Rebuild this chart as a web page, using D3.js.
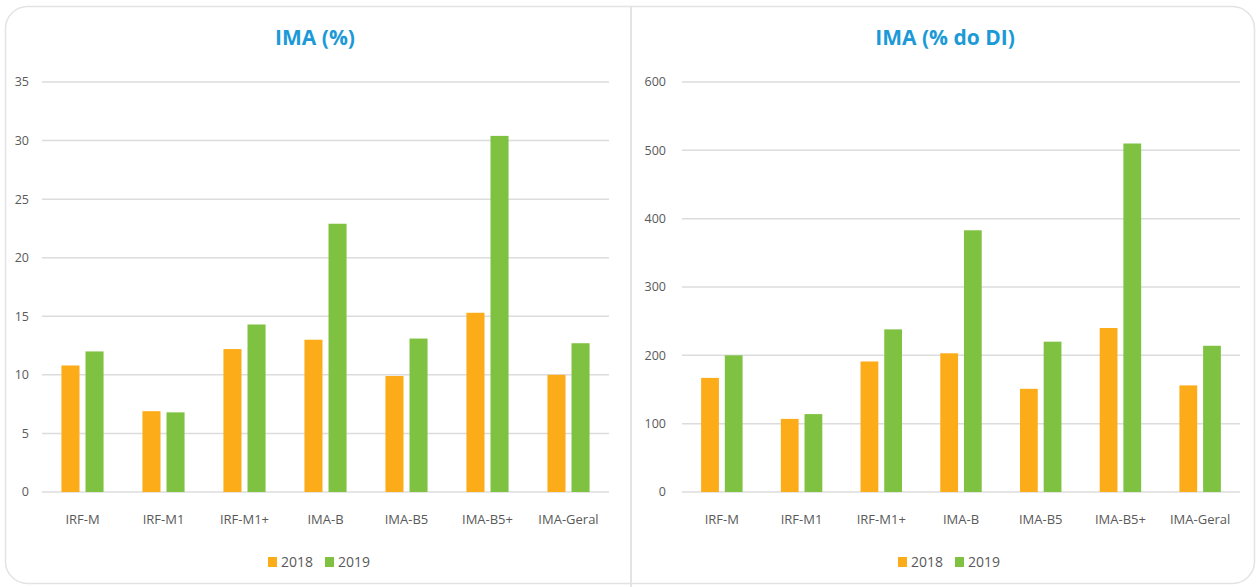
<!DOCTYPE html>
<html>
<head>
<meta charset="utf-8">
<script src="https://cdn.jsdelivr.net/npm/d3@7"></script>
<style>
  body { margin: 0; background: #fff; }
  svg { display: block; font-family: "Open Sans", sans-serif; }
</style>
</head>
<body>
<svg id="chart" width="1257" height="587"></svg>
<script>
const categories = ["IRF-M", "IRF-M1", "IRF-M1+", "IMA-B", "IMA-B5", "IMA-B5+", "IMA-Geral"];
const years = ["2018", "2019"];
const ima2018 = [10.8, 6.9, 12.2, 13.0, 9.9, 15.3, 10.0];
const ima2019 = [12.0, 6.8, 14.3, 22.9, 13.1, 30.4, 12.7];
const di2018 = [167, 107, 191, 203, 151, 240, 156];
const di2019 = [200, 114, 238, 383, 220, 510, 214];
const imaTicks = [0, 5, 10, 15, 20, 25, 30, 35];
const diTicks = [0, 100, 200, 300, 400, 500, 600];

const colors = { "2018": "#fcab19", "2019": "#7fc241" };
const svg = d3.select("#chart");

// outer frame + divider
svg.append("rect")
  .attr("x", 5.5).attr("y", 6.5)
  .attr("width", 1249).attr("height", 577)
  .attr("rx", 22)
  .attr("fill", "#fff")
  .attr("stroke", "#e3e3e3")
  .attr("stroke-width", 1.5);
svg.append("line")
  .attr("x1", 631).attr("x2", 631)
  .attr("y1", 7).attr("y2", 587)
  .attr("stroke", "#e3e3e3")
  .attr("stroke-width", 2);

function drawPanel(opts) {
  const g = svg.append("g");
  const y = d3.scaleLinear().domain([0, opts.max]).range([492, 82]);
  const x0 = d3.scaleBand().domain(categories).range([opts.left, opts.right])
    .paddingInner(0.48).paddingOuter(0.24);
  const x1 = d3.scaleBand().domain(years).range([0, x0.bandwidth()]).paddingInner(0.25);

  // gridlines
  g.append("g").selectAll("line")
    .data(opts.ticks)
    .enter()
    .append("line")
    .attr("x1", opts.left).attr("x2", opts.right)
    .attr("y1", d => y(d)).attr("y2", d => y(d))
    .attr("stroke", "#dcdcdc")
    .attr("stroke-width", 1.5);

  // y axis labels
  g.append("g").selectAll("text")
    .data(opts.ticks)
    .enter()
    .append("text")
    .attr("x", opts.labelX)
    .attr("y", d => y(d))
    .attr("dy", "0.35em")
    .attr("text-anchor", "end")
    .attr("font-size", 12.5)
    .attr("fill", "#595959")
    .text(d => d);

  const rows = categories.map((c, i) => ({ cat: c, vals: [opts.s2018[i], opts.s2019[i]] }));

  const groups = g.append("g").selectAll("g")
    .data(rows)
    .enter()
    .append("g")
    .attr("transform", d => "translate(" + x0(d.cat) + ",0)");

  groups.selectAll("rect")
    .data(d => d.vals.map((v, i) => ({ year: years[i], v: v })))
    .enter()
    .append("rect")
    .attr("x", d => x1(d.year))
    .attr("y", d => y(d.v))
    .attr("width", x1.bandwidth())
    .attr("height", d => y(0) - y(d.v))
    .attr("fill", d => colors[d.year]);

  // category labels
  g.append("g").selectAll("text")
    .data(categories)
    .enter()
    .append("text")
    .attr("x", d => x0(d) + x0.bandwidth() / 2)
    .attr("y", 519)
    .attr("dy", "0.35em")
    .attr("text-anchor", "middle")
    .attr("font-size", 13)
    .attr("fill", "#595959")
    .text(d => d);

  // title
  g.append("text")
    .attr("x", opts.titleX)
    .attr("y", 38)
    .attr("dy", "0.35em")
    .attr("text-anchor", "middle")
    .attr("font-size", 21)
    .attr("font-weight", "bold")
    .attr("fill", "#1b9ad7")
    .text(opts.title);

  // legend
  const leg = g.append("g").selectAll("g")
    .data(years)
    .enter()
    .append("g")
    .attr("transform", (d, i) => "translate(" + (opts.legendX + i * 57) + ",562)");
  leg.append("rect")
    .attr("x", 0).attr("y", -5)
    .attr("width", 9).attr("height", 10)
    .attr("fill", d => colors[d]);
  leg.append("text")
    .attr("x", 13)
    .attr("dy", "0.35em")
    .attr("font-size", 14)
    .attr("fill", "#595959")
    .text(d => d);
}

drawPanel({
  title: "IMA (%)", titleX: 315, max: 35, ticks: imaTicks,
  left: 42, right: 609, labelX: 29, legendX: 268,
  s2018: ima2018, s2019: ima2019
});
drawPanel({
  title: "IMA (% do DI)", titleX: 945, max: 600, ticks: diTicks,
  left: 682, right: 1240, labelX: 666, legendX: 898,
  s2018: di2018, s2019: di2019
});
</script>
</body>
</html>
